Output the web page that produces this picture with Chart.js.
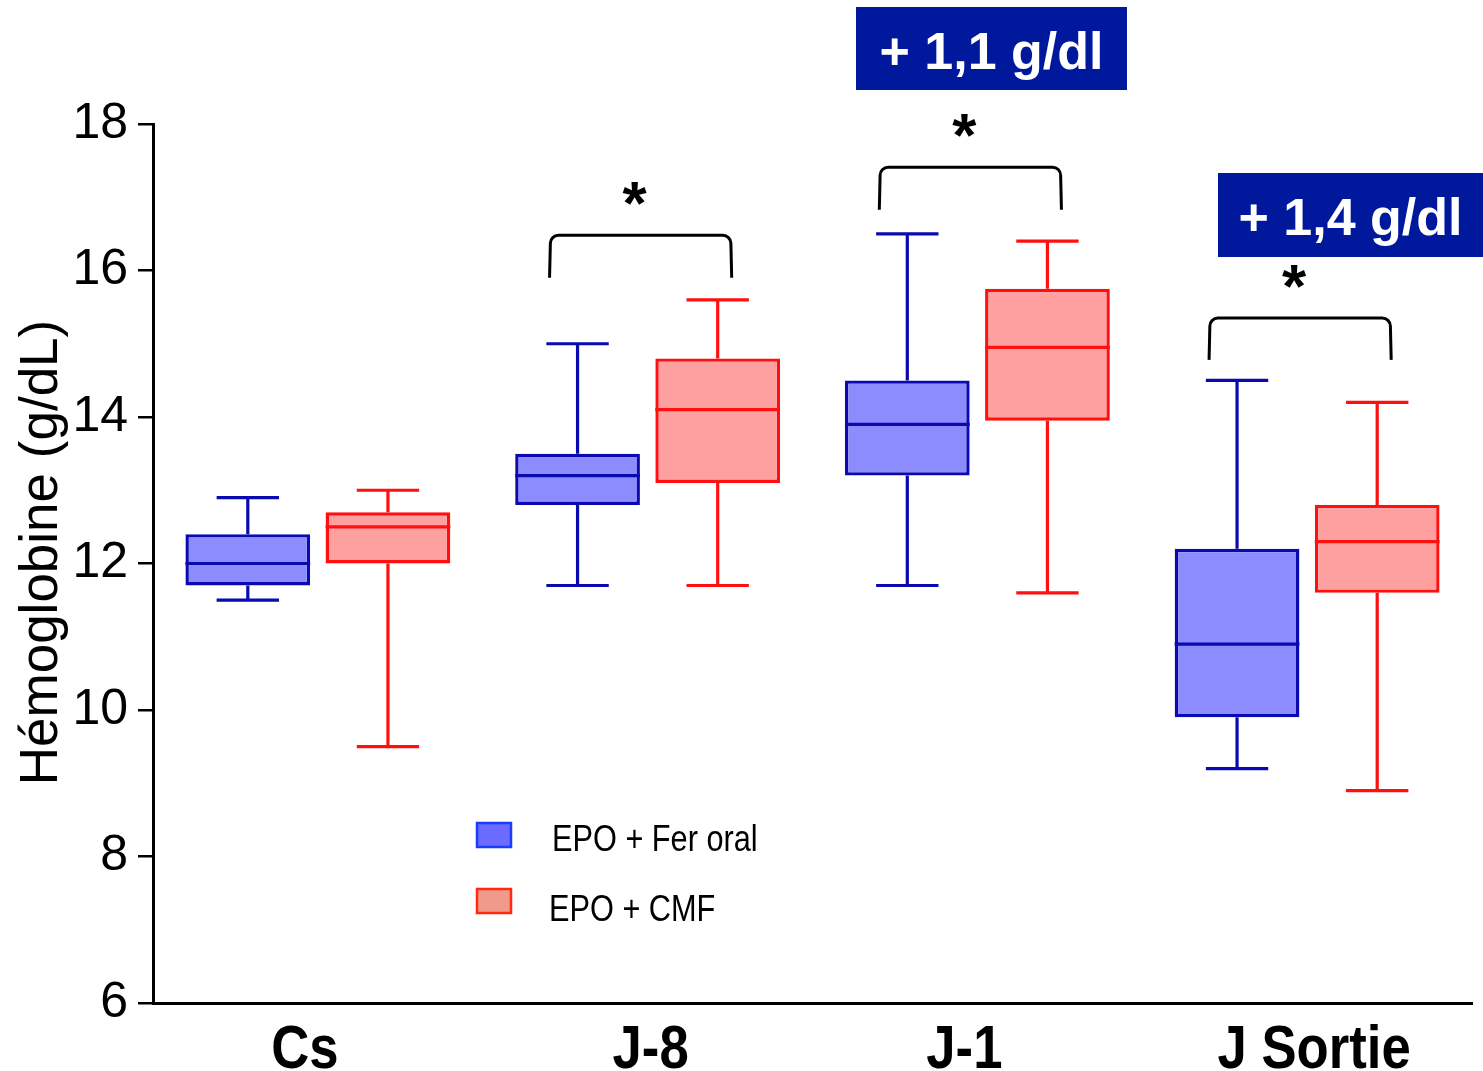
<!DOCTYPE html>
<html>
<head>
<meta charset="utf-8">
<script src="https://cdn.jsdelivr.net/npm/chart.js@4.4.1/dist/chart.umd.min.js"></script>
<style>
  html, body { margin: 0; padding: 0; background: #fff; }
  #wrap { width: 1483px; height: 1071px; }
</style>
</head>
<body>
<div id="wrap"><canvas id="chart" width="1483" height="1071"></canvas></div>
<script>
const categories = ['Cs', 'J-8', 'J-1', 'J Sortie'];
const seriesNames = ['EPO + Fer oral', 'EPO + CMF'];

// EPO + Fer oral
const ferMin = [11.5, 11.7, 11.7, 9.2];
const ferQ1 = [11.7, 12.8, 13.2, 9.9];
const ferMed = [12.0, 13.2, 13.9, 10.9];
const ferQ3 = [12.4, 13.5, 14.5, 12.2];
const ferMax = [12.9, 15.0, 16.5, 14.5];

// EPO + CMF
const cmfMin = [9.5, 11.7, 11.6, 8.9];
const cmfQ1 = [12.0, 13.1, 13.95, 11.6];
const cmfMed = [12.5, 14.1, 14.95, 12.3];
const cmfQ3 = [12.7, 14.8, 15.75, 12.8];
const cmfMax = [13.0, 15.6, 16.4, 14.2];

const yTicks = [6, 8, 10, 12, 14, 16, 18];

// brackets de significativite (index categorie, haut, bas)
const bracketCat = [1, 2, 3];
const bracketTop = [16.48, 17.41, 15.35];
const bracketBottom = [15.9, 16.83, 14.78];

// etiquettes de gain
const gainLabels = ['+ 1,1 g/dl', '+ 1,4 g/dl'];

const blueFill = '#8c8cff';
const blueLine = '#0a0ab0';
const redFill = '#ffa0a0';
const redLine = '#ff0f0f';

// petit decalage des etiquettes x comme sur l'original
const xLabelShift = [-13, 3, -13, 7];

const whiskers = [
  { min: ferMin, med: ferMed, max: ferMax, q1: ferQ1, q3: ferQ3, color: blueLine },
  { min: cmfMin, med: cmfMed, max: cmfMax, q1: cmfQ1, q3: cmfQ3, color: redLine }
];

function narrowText(ctx, txt, x, y, sx) {
  ctx.save();
  ctx.translate(x, y);
  ctx.scale(sx, 1);
  ctx.fillText(txt, 0, 0);
  ctx.restore();
}

const boxPlugin = {
  id: 'boxPlugin',
  afterDatasetsDraw(chart) {
    const ctx = chart.ctx;
    const y = chart.scales.y;
    whiskers.forEach((w, di) => {
      const meta = chart.getDatasetMeta(di);
      meta.data.forEach((bar, i) => {
        const cx = bar.x;
        const half = bar.width / 2;
        const cap = bar.width / 4;
        ctx.save();
        ctx.strokeStyle = w.color;
        ctx.lineWidth = 3.2;
        ctx.beginPath();
        // mediane
        ctx.moveTo(cx - half, y.getPixelForValue(w.med[i]));
        ctx.lineTo(cx + half, y.getPixelForValue(w.med[i]));
        // moustache haute
        ctx.moveTo(cx, y.getPixelForValue(w.q3[i]));
        ctx.lineTo(cx, y.getPixelForValue(w.max[i]));
        ctx.moveTo(cx - cap, y.getPixelForValue(w.max[i]));
        ctx.lineTo(cx + cap, y.getPixelForValue(w.max[i]));
        // moustache basse
        ctx.moveTo(cx, y.getPixelForValue(w.q1[i]));
        ctx.lineTo(cx, y.getPixelForValue(w.min[i]));
        ctx.moveTo(cx - cap, y.getPixelForValue(w.min[i]));
        ctx.lineTo(cx + cap, y.getPixelForValue(w.min[i]));
        ctx.stroke();
        ctx.restore();
      });
    });
  }
};

const annotPlugin = {
  id: 'annotPlugin',
  afterDraw(chart) {
    const ctx = chart.ctx;
    const y = chart.scales.y;
    const x = chart.scales.x;
    const m0 = chart.getDatasetMeta(0);
    const m1 = chart.getDatasetMeta(1);

    // etiquettes de l'axe x (police etroite)
    ctx.save();
    ctx.fillStyle = '#000';
    ctx.font = 'bold 62px "Liberation Sans", Arial, sans-serif';
    ctx.textAlign = 'center';
    ctx.textBaseline = 'alphabetic';
    categories.forEach((c, i) => {
      narrowText(ctx, c, x.getPixelForTick(i) + xLabelShift[i], x.bottom - 3, 0.85);
    });
    ctx.restore();

    // titre de l'axe y
    ctx.save();
    ctx.fillStyle = '#000';
    ctx.font = '53px "Liberation Sans", Arial, sans-serif';
    ctx.textAlign = 'center';
    ctx.textBaseline = 'middle';
    ctx.translate(42, (y.top + y.bottom) / 2 - 11);
    ctx.rotate(-Math.PI / 2);
    ctx.fillText('Hémoglobine (g/dL)', 0, 0);
    ctx.restore();

    // brackets + asterisques
    bracketCat.forEach((c, k) => {
      const x1 = m0.data[c].x - 28;
      const x2 = m1.data[c].x + 14;
      const yt = y.getPixelForValue(bracketTop[k]);
      const yb = y.getPixelForValue(bracketBottom[k]);
      const r = 8;
      ctx.save();
      ctx.strokeStyle = '#000';
      ctx.lineWidth = 3;
      ctx.beginPath();
      ctx.moveTo(x1, yb);
      ctx.arcTo(x1 + 1, yt, x1 + r, yt, r);
      ctx.lineTo(x2 - r, yt);
      ctx.arcTo(x2 - 1, yt, x2, yb, r);
      ctx.lineTo(x2, yb);
      ctx.stroke();
      ctx.fillStyle = '#000';
      ctx.font = 'bold 62px "Liberation Sans", Arial, sans-serif';
      ctx.textAlign = 'center';
      ctx.textBaseline = 'middle';
      ctx.fillText('*', (x1 + x2) / 2 - 6, yt - 28);
      ctx.restore();
    });

    // etiquettes de gain
    const boxes = [
      { x: 856, yTop: 7, w: 271, h: 83 },
      { x: 1218, yTop: 173, w: 265, h: 84 }
    ];
    gainLabels.forEach((txt, k) => {
      const b = boxes[k];
      ctx.save();
      ctx.fillStyle = '#00199c';
      ctx.fillRect(b.x, b.yTop, b.w, b.h);
      ctx.fillStyle = '#fff';
      ctx.font = 'bold 52px "Liberation Sans", Arial, sans-serif';
      ctx.textAlign = 'center';
      ctx.textBaseline = 'middle';
      ctx.fillText(txt, b.x + b.w / 2, b.yTop + b.h / 2 + 6);
      ctx.restore();
    });

    // legende
    const leg = [
      { fill: '#6b6bff', line: '#1a3cff', ry: 823, tx: 552, ty: 841 },
      { fill: '#f09a8c', line: '#ff2a10', ry: 889, tx: 549, ty: 911 }
    ];
    leg.forEach((l, k) => {
      ctx.save();
      ctx.fillStyle = l.fill;
      ctx.strokeStyle = l.line;
      ctx.lineWidth = 2.5;
      ctx.fillRect(477, l.ry, 34, 24);
      ctx.strokeRect(477, l.ry, 34, 24);
      ctx.fillStyle = '#000';
      ctx.font = '37px "Liberation Sans", Arial, sans-serif';
      ctx.textAlign = 'left';
      ctx.textBaseline = 'middle';
      narrowText(ctx, seriesNames[k], l.tx, l.ty, 0.83);
      ctx.restore();
    });
  }
};

const ctx = document.getElementById('chart').getContext('2d');
new Chart(ctx, {
  type: 'bar',
  data: {
    labels: categories,
    datasets: [
      {
        label: seriesNames[0],
        data: ferQ1.map((v, i) => [v, ferQ3[i]]),
        backgroundColor: blueFill,
        borderColor: blueLine,
        borderWidth: 3.4,
        borderSkipped: false
      },
      {
        label: seriesNames[1],
        data: cmfQ1.map((v, i) => [v, cmfQ3[i]]),
        backgroundColor: redFill,
        borderColor: redLine,
        borderWidth: 3.4,
        borderSkipped: false
      }
    ]
  },
  options: {
    responsive: false,
    animation: false,
    categoryPercentage: 0.85,
    barPercentage: 0.89,
    layout: { padding: { top: 124, right: 11, left: 0, bottom: 0 } },
    plugins: {
      legend: { display: false },
      tooltip: { enabled: false }
    },
    scales: {
      x: {
        grid: { display: false, drawTicks: false },
        border: { display: true, color: '#000', width: 3 },
        ticks: { display: false },
        afterFit(scale) { scale.height = 68; }
      },
      y: {
        min: 6,
        max: 18,
        afterBuildTicks(scale) { scale.ticks = yTicks.map(v => ({ value: v })); },
        grid: { drawOnChartArea: false, tickLength: 15, color: '#000', lineWidth: 2.5 },
        border: { display: true, color: '#000', width: 3 },
        ticks: {
          color: '#000',
          padding: 10,
          font: { family: '"Liberation Sans", Arial, sans-serif', size: 50 }
        },
        afterFit(scale) { scale.width = 153; }
      }
    }
  },
  plugins: [boxPlugin, annotPlugin]
});
</script>
</body>
</html>
